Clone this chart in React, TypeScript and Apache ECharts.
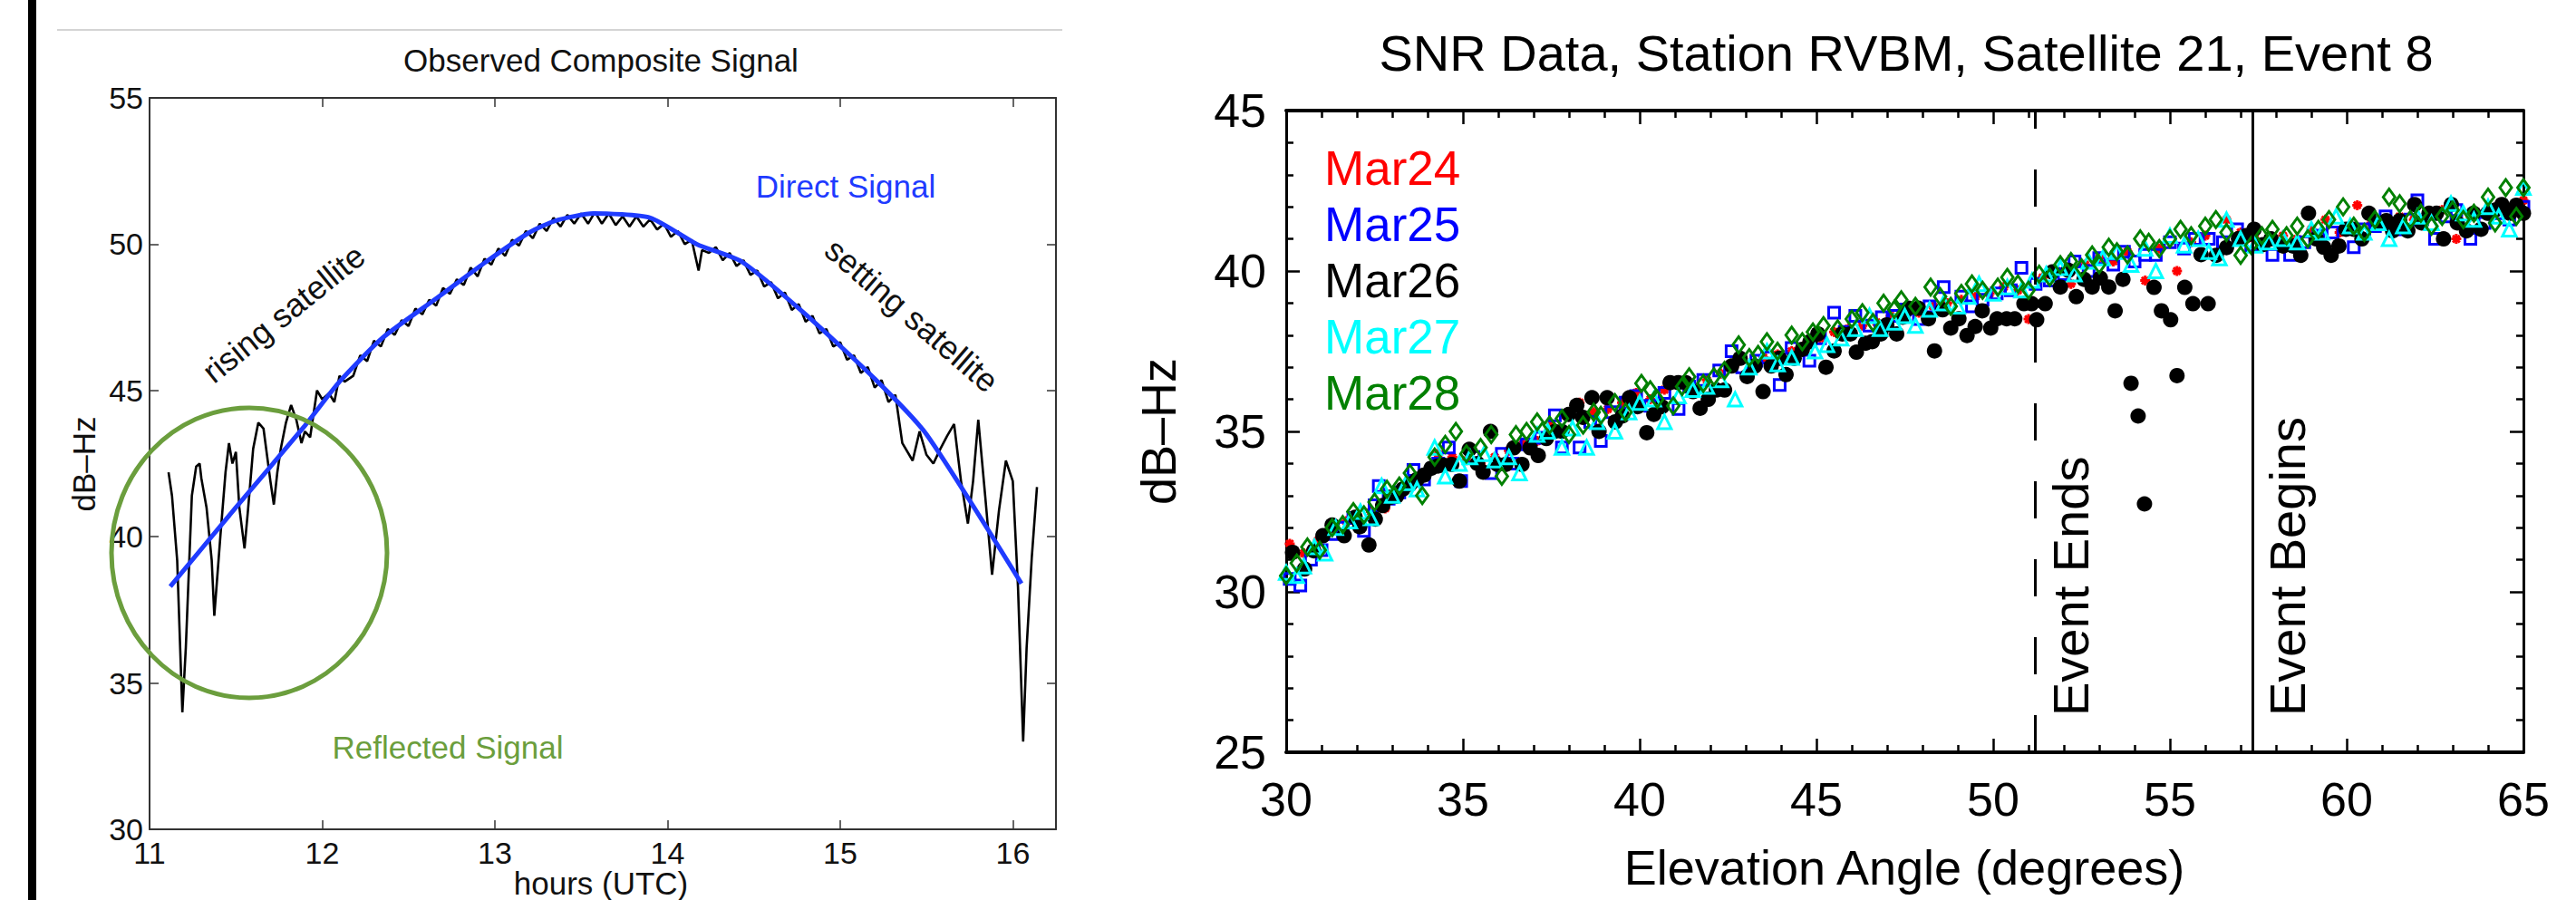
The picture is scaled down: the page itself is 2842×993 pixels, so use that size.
import React, { useEffect, useRef } from "react";
import * as echarts from "echarts";

const FONT = '"Liberation Sans", Arial, Helvetica, sans-serif';

// ---------- Left panel ----------
const leftTitle = "Observed Composite Signal";
const leftXName = "hours (UTC)";
const leftYName = "dB\u2013Hz";
const directSignal: [number, number][] = [
  [11.12, 38.3], [11.5, 41.0], [11.9, 43.8], [12.1, 45.3], [12.35, 46.8], [12.65, 48.1],
  [12.95, 49.4], [13.2, 50.4], [13.35, 50.8], [13.57, 51.05], [13.9, 50.9], [14.17, 50.0],
  [14.43, 49.4], [14.8, 47.6], [15.2, 45.4], [15.5, 43.5], [16.05, 38.4],
];
const compositeSignal: [number, number][] = [
  [11.11, 42.2], [11.13, 41.4], [11.16, 39.2], [11.19, 34.0], [11.21, 36.2], [11.245, 41.4],
  [11.27, 42.4], [11.29, 42.5], [11.3, 42.0], [11.33, 41.0], [11.36, 39.2], [11.375, 37.3],
  [11.41, 40.0], [11.44, 42.2], [11.46, 43.2], [11.48, 42.5], [11.5, 42.9], [11.52, 41.0],
  [11.55, 39.6], [11.57, 40.9], [11.6, 43.0], [11.63, 43.9], [11.66, 43.7], [11.68, 42.8],
  [11.7, 41.9], [11.72, 41.1], [11.74, 42.2], [11.76, 43.0], [11.79, 43.9], [11.82, 44.5],
  [11.85, 44.0], [11.88, 43.2], [11.9, 43.6], [11.93, 43.4], [11.97, 45.0], [12.0, 44.7],
  [12.04, 44.9], [12.07, 44.6], [12.1, 45.5], [12.13, 45.3], [12.18, 45.5], [12.22, 46.2],
  [12.26, 46.0], [12.3, 46.7], [12.34, 46.5], [12.38, 47.1], [12.42, 46.9], [12.46, 47.4],
  [12.5, 47.2], [12.54, 47.8], [12.58, 47.6], [12.62, 48.1], [12.66, 47.9], [12.7, 48.5],
  [12.74, 48.3], [12.78, 48.8], [12.82, 48.6], [12.86, 49.2], [12.9, 48.9], [12.94, 49.5],
  [12.98, 49.3], [13.02, 49.85], [13.06, 49.6], [13.1, 50.15], [13.14, 49.95], [13.18, 50.45],
  [13.22, 50.2], [13.26, 50.7], [13.3, 50.45], [13.34, 50.9], [13.38, 50.6], [13.42, 51.0],
  [13.46, 50.7], [13.5, 51.05], [13.54, 50.7], [13.58, 51.1], [13.62, 50.7], [13.66, 51.05],
  [13.7, 50.65], [13.74, 50.95], [13.78, 50.6], [13.82, 50.95], [13.86, 50.6], [13.9, 50.85],
  [13.94, 50.5], [13.98, 50.7], [14.02, 50.25], [14.06, 50.45], [14.1, 50.0], [14.14, 50.15],
  [14.18, 49.1], [14.2, 49.8], [14.24, 49.7], [14.28, 49.9], [14.32, 49.45], [14.36, 49.7],
  [14.4, 49.25], [14.44, 49.45], [14.48, 48.95], [14.52, 49.1], [14.56, 48.55], [14.6, 48.7],
  [14.64, 48.15], [14.68, 48.35], [14.72, 47.75], [14.76, 47.95], [14.8, 47.35], [14.84, 47.55],
  [14.88, 46.95], [14.92, 47.1], [14.96, 46.5], [15.0, 46.65], [15.04, 46.05], [15.08, 46.2],
  [15.12, 45.6], [15.16, 45.8], [15.2, 45.1], [15.24, 45.35], [15.28, 44.6], [15.32, 44.85],
  [15.36, 43.2], [15.42, 42.6], [15.46, 43.6], [15.5, 42.8], [15.54, 42.5], [15.58, 43.0],
  [15.62, 43.45], [15.66, 43.85], [15.7, 41.9], [15.74, 40.45], [15.77, 41.9], [15.8, 44.0],
  [15.84, 41.4], [15.88, 38.7], [15.92, 40.9], [15.96, 42.6], [16.0, 41.9], [16.03, 38.3],
  [16.06, 33.0], [16.08, 36.2], [16.11, 39.3], [16.14, 41.7],
];

// ---------- Right panel ----------
const rightTitle = "SNR Data, Station RVBM, Satellite 21, Event 8";
const rightXName = "Elevation Angle (degrees)";
const rightYName = "dB\u2013Hz";
const legendNames = ["Mar24", "Mar25", "Mar26", "Mar27", "Mar28"];
const legendColors = ["#ff0000", "#0000ff", "#000000", "#00ffff", "#008000"];
const eventEndsElev = 51.19;
const eventBeginsElev = 57.35;

const mar24: [number, number][] = [
  [30.1, 31.5], [30.5, 31.2], [30.9, 31.6], [31.3, 32.0], [31.7, 32.2], [32.0, 32.4], [32.4, 32.5],
  [32.8, 32.6], [33.1, 32.9], [33.5, 33.4], [33.9, 33.7], [34.3, 34.3], [34.7, 34.2], [35.1, 34.1],
  [35.5, 34.0], [35.9, 34.2], [36.3, 34.4], [36.7, 34.6], [37.1, 34.7], [37.5, 35.2], [37.9, 35.5],
  [38.3, 35.9], [38.7, 35.6], [39.1, 35.7], [39.5, 35.9], [39.9, 36.2], [40.3, 36.0], [40.7, 36.3],
  [41.1, 36.5], [41.5, 36.4], [41.9, 36.6], [42.3, 36.8], [42.7, 37.1], [43.1, 36.9], [43.5, 37.3],
  [43.9, 37.4], [44.3, 37.5], [44.7, 37.7], [45.1, 37.9], [45.5, 38.1], [45.9, 38.2], [46.3, 38.3],
  [46.7, 38.4], [47.1, 38.6], [47.5, 38.8], [47.9, 38.7], [48.3, 38.9], [48.7, 39.0], [49.1, 39.1],
  [49.5, 39.2], [49.9, 39.3], [50.3, 39.5], [50.7, 39.4], [51.0, 38.5], [51.4, 39.8], [51.8, 40.0],
  [52.2, 39.6], [52.6, 40.2], [53.0, 40.4], [53.4, 40.3], [53.8, 40.6], [54.3, 39.7], [54.7, 40.7],
  [55.2, 40.0], [55.6, 40.9], [56.0, 41.1], [56.6, 41.6], [57.0, 41.2], [57.4, 41.0], [57.8, 40.9],
  [58.2, 41.1], [58.6, 41.0], [59.0, 41.3], [59.4, 41.6], [59.8, 41.2], [60.3, 42.05], [60.7, 41.5],
  [61.1, 41.4], [61.5, 41.7], [61.9, 41.6], [62.3, 41.8], [62.7, 41.9], [63.1, 41.0], [63.5, 41.7],
  [63.9, 41.8], [64.3, 41.9], [64.7, 42.0], [65.0, 42.2],
];
const mar25: [number, number][] = [
  [30.1, 30.4], [30.4, 30.2], [30.7, 31.0], [31.0, 31.3], [31.3, 31.8], [31.6, 32.0], [31.9, 32.3],
  [32.2, 31.9], [32.5, 32.7], [32.62, 33.3], [32.9, 32.9], [33.2, 33.1], [33.6, 33.8], [33.9, 33.5],
  [34.3, 34.0], [34.6, 34.5], [34.95, 33.45], [35.3, 34.2], [35.8, 33.7], [36.1, 34.3], [36.4, 34.0],
  [36.8, 34.6], [37.2, 34.8], [37.6, 35.5], [37.8, 34.5], [38.3, 34.5], [38.6, 35.3], [38.9, 34.7],
  [39.2, 35.6], [39.6, 35.9], [39.9, 36.1], [40.3, 35.8], [40.7, 36.2], [41.1, 35.7], [41.4, 36.4],
  [41.8, 36.6], [42.25, 36.9], [42.6, 37.5], [42.9, 37.0], [43.3, 37.2], [43.6, 37.3], [43.96, 36.45],
  [44.3, 37.6], [44.8, 37.2], [45.1, 37.9], [45.5, 38.7], [45.8, 38.1], [46.1, 38.6], [46.5, 38.3],
  [46.85, 38.56], [47.2, 38.6], [47.5, 38.8], [47.9, 38.5], [48.2, 38.9], [48.6, 39.5], [49.1, 39.2],
  [49.4, 38.9], [49.7, 39.1], [50.1, 39.3], [50.5, 39.4], [50.8, 40.1], [51.2, 39.6], [51.6, 39.7],
  [52.0, 39.9], [52.3, 40.3], [52.7, 40.0], [53.0, 40.4], [53.4, 40.2], [53.7, 40.6], [54.0, 40.3],
  [54.3, 40.5], [54.6, 40.5], [55.0, 40.9], [55.4, 40.7], [55.7, 41.0], [56.1, 41.0], [56.5, 40.9],
  [56.9, 41.3], [57.3, 40.8], [57.9, 40.5], [58.4, 40.5], [58.8, 40.9], [59.2, 41.1], [59.6, 41.2],
  [60.2, 40.74], [60.5, 41.3], [60.8, 41.4], [61.1, 41.7], [61.5, 41.3], [61.8, 41.6], [62.0, 42.2],
  [62.5, 41.0], [62.8, 41.7], [63.1, 41.9], [63.5, 41.0], [63.9, 41.5], [64.3, 41.8], [64.6, 41.6],
  [65.0, 42.0],
];
const mar26: [number, number][] = [
  [30.18, 31.23], [30.52, 30.71], [30.78, 31.28], [31.04, 31.75], [31.3, 32.08], [31.64, 31.75],
  [31.95, 32.32], [32.08, 32.03], [32.34, 31.46], [32.52, 32.27], [32.73, 32.69], [32.95, 32.95],
  [33.12, 32.98], [33.3, 33.2], [33.51, 33.36], [33.7, 33.5], [33.9, 33.64], [34.1, 33.85],
  [34.29, 33.92], [34.45, 33.95], [34.68, 33.97], [34.9, 33.45], [35.18, 34.44], [35.41, 34.0],
  [35.57, 33.73], [35.78, 35.0], [35.98, 33.97], [36.21, 33.97], [36.44, 34.49], [36.67, 33.97],
  [36.9, 34.49], [37.13, 34.25], [37.36, 34.78], [37.6, 35.0], [37.8, 35.0], [37.99, 35.53],
  [38.22, 35.81], [38.39, 35.44], [38.65, 36.05], [38.85, 35.0], [39.08, 36.05], [39.31, 35.3],
  [39.51, 35.48], [39.71, 36.05], [39.94, 35.77], [40.2, 34.96], [40.4, 35.53], [40.63, 35.77],
  [40.86, 36.52], [41.09, 36.52], [41.3, 36.52], [41.51, 36.24], [41.71, 35.72], [41.94, 36.0],
  [42.17, 36.29], [42.4, 36.29], [42.6, 37.04], [42.84, 37.28], [43.04, 36.71], [43.26, 37.04],
  [43.49, 36.24], [43.72, 37.04], [43.95, 37.28], [44.14, 36.77], [44.37, 37.28], [44.6, 37.56],
  [44.82, 37.8], [45.04, 38.04], [45.27, 37.0], [45.5, 37.51], [45.73, 38.04], [45.96, 38.04],
  [46.13, 37.47], [46.39, 37.75], [46.58, 37.8], [46.82, 38.04], [46.99, 38.32], [47.27, 38.04],
  [47.44, 38.56], [47.6, 38.84], [47.88, 38.84], [48.17, 38.51], [48.34, 37.51], [48.57, 38.79],
  [48.8, 38.22], [49.03, 38.51], [49.26, 37.99], [49.49, 38.27], [49.69, 38.76], [49.93, 38.22],
  [50.11, 38.51], [50.38, 38.51], [50.61, 38.51], [50.87, 38.98], [51.09, 38.98], [51.23, 38.48],
  [51.47, 38.98], [51.67, 39.97], [51.9, 39.5], [52.13, 40.02], [52.35, 39.2], [52.57, 39.74],
  [52.8, 39.5], [53.03, 39.78], [53.27, 39.5], [53.45, 38.76], [53.67, 39.74], [53.9, 36.5],
  [54.1, 35.48], [54.28, 32.74], [54.55, 39.49], [54.76, 38.76], [55.02, 38.48], [55.2, 36.74],
  [55.42, 39.49], [55.65, 38.98], [55.88, 40.51], [56.08, 38.98], [56.31, 40.49], [56.6, 40.73],
  [56.94, 41.01], [57.15, 41.1], [57.38, 41.3], [57.63, 40.82], [57.86, 41.0], [58.2, 40.78],
  [58.48, 40.78], [58.7, 40.49], [58.92, 41.8], [59.14, 41.0], [59.35, 40.74], [59.56, 40.49],
  [59.78, 40.78], [59.98, 41.3], [60.2, 41.3], [60.43, 41.0], [60.63, 41.8], [60.9, 41.48],
  [61.12, 41.57], [61.3, 41.25], [61.5, 41.57], [61.73, 41.25], [61.92, 42.07], [62.12, 41.5],
  [62.33, 41.8], [62.54, 41.8], [62.74, 41.0], [62.96, 42.07], [63.13, 41.5], [63.39, 41.25],
  [63.59, 41.8], [63.8, 41.3], [63.99, 41.8], [64.2, 41.9], [64.39, 42.07], [64.62, 41.8],
  [64.8, 42.05], [65.0, 41.8],
];
const mar27: [number, number][] = [
  [30.0, 30.6], [30.3, 30.5], [30.5, 30.8], [30.8, 31.4], [31.1, 31.2], [31.4, 32.0], [31.8, 32.2],
  [32.1, 32.5], [32.4, 32.3], [32.7, 33.3], [33.0, 33.0], [33.4, 33.4], [33.7, 33.2], [34.2, 34.5],
  [34.5, 33.6], [34.9, 34.0], [35.2, 34.2], [35.6, 34.3], [35.9, 34.1], [36.3, 34.2], [36.6, 33.7],
  [37.1, 34.9], [37.4, 35.0], [37.8, 34.5], [38.1, 35.1], [38.5, 34.5], [38.8, 35.3], [39.3, 35.0],
  [39.7, 35.6], [40.0, 35.9], [40.4, 36.0], [40.7, 35.3], [41.1, 36.1], [41.5, 36.3], [41.9, 36.4],
  [42.3, 36.6], [42.7, 36.0], [43.1, 37.0], [43.6, 37.5], [43.9, 37.1], [44.3, 37.3], [44.96, 37.5],
  [45.3, 37.7], [45.7, 37.9], [46.1, 38.2], [46.5, 38.6], [46.8, 38.2], [47.2, 38.4], [47.5, 38.6],
  [47.8, 38.3], [48.2, 38.8], [48.6, 39.0], [49.0, 38.9], [49.3, 39.2], [49.6, 39.6], [50.0, 39.3],
  [50.4, 39.5], [50.8, 39.4], [51.1, 39.7], [51.5, 39.9], [51.9, 40.1], [52.3, 39.9], [52.7, 40.3],
  [53.1, 40.4], [53.5, 40.6], [53.9, 40.2], [54.3, 40.7], [54.6, 40.0], [55.0, 41.1], [55.4, 40.8],
  [55.8, 41.0], [56.1, 40.6], [56.4, 40.4], [56.6, 41.6], [57.0, 41.0], [57.4, 40.8], [57.8, 40.9],
  [58.2, 41.0], [58.6, 40.9], [59.0, 41.3], [59.3, 41.2], [59.7, 41.7], [60.1, 41.4], [60.5, 41.2],
  [60.9, 41.5], [61.2, 41.0], [61.6, 41.4], [62.0, 41.7], [62.4, 41.5], [62.95, 42.1], [63.3, 41.8],
  [63.6, 41.6], [64.0, 42.0], [64.3, 41.7], [64.6, 41.3], [65.0, 42.6],
];
const mar28: [number, number][] = [
  [30.0, 30.5], [30.3, 30.9], [30.6, 31.4], [30.95, 31.3], [31.3, 32.0], [31.6, 32.1], [31.9, 32.5],
  [32.2, 32.4], [32.5, 32.8], [32.85, 33.2], [33.2, 33.3], [33.5, 33.7], [33.85, 33.0], [34.2, 34.2],
  [34.5, 34.6], [34.8, 35.0], [35.1, 34.3], [35.5, 34.5], [35.8, 34.9], [36.1, 33.6], [36.5, 34.9],
  [36.8, 35.0], [37.1, 35.3], [37.45, 35.2], [37.8, 35.4], [38.0, 34.9], [38.4, 35.2], [38.7, 35.6],
  [38.9, 35.5], [39.3, 35.9], [39.6, 35.6], [40.05, 36.5], [40.3, 36.3], [40.5, 36.0], [40.95, 35.8],
  [41.2, 36.4], [41.4, 36.7], [41.8, 36.5], [42.1, 36.7], [42.4, 36.9], [42.8, 37.7], [43.1, 37.3],
  [43.35, 37.4], [43.6, 37.8], [43.9, 37.5], [44.3, 38.0], [44.6, 37.8], [44.9, 38.1], [45.2, 38.3],
  [45.6, 38.2], [46.0, 38.5], [46.3, 38.7], [46.6, 38.4], [46.9, 39.0], [47.2, 38.8], [47.4, 39.1],
  [47.8, 38.9], [48.23, 39.5], [48.5, 39.2], [48.8, 38.9], [49.1, 39.3], [49.4, 39.6], [49.7, 39.4],
  [50.13, 39.5], [50.4, 39.8], [50.7, 39.6], [51.0, 39.4], [51.3, 39.9], [51.6, 39.8], [51.9, 40.2],
  [52.2, 40.3], [52.5, 40.1], [52.8, 40.5], [53.0, 40.2], [53.27, 40.74], [53.5, 40.6], [53.8, 40.5],
  [54.16, 41.0], [54.4, 40.9], [54.7, 40.7], [55.0, 41.0], [55.3, 41.3], [55.6, 41.1], [56.0, 41.4],
  [56.3, 41.6], [56.6, 41.2], [57.0, 40.49], [57.3, 40.8], [57.6, 41.1], [57.9, 41.3], [58.3, 41.1],
  [58.6, 41.4], [58.9, 41.0], [59.2, 41.3], [59.5, 41.6], [59.9, 42.0], [60.2, 41.4], [60.5, 41.2],
  [60.8, 41.6], [61.2, 42.3], [61.5, 42.1], [61.8, 41.6], [62.1, 41.8], [62.4, 41.4], [62.7, 41.7],
  [63.0, 41.9], [63.3, 41.6], [63.6, 41.8], [64.0, 42.3], [64.2, 41.5], [64.5, 42.6], [64.8, 41.7],
  [65.0, 42.6],
];

const asteriskPath = "path://M5,0L5,10M0,5L10,5M1.5,1.5L8.5,8.5M8.5,1.5L1.5,8.5";

function txt(text: string, x: number, y: number, size: number, color: string, rotation = 0, align = "center") {
  return {
    type: "text",
    x,
    y,
    rotation,
    silent: true,
    z: 20,
    style: { text, fill: color, fontSize: size, fontFamily: FONT, align, verticalAlign: "middle" },
  };
}

export default function App() {
  const ref = useRef<HTMLDivElement>(null);
  useEffect(() => {
    const chart = echarts.init(ref.current!, null, { renderer: "svg" });

    const leftFrame = { color: "#333", width: 2 };
    const leftTick = { show: true, inside: true, length: 10, lineStyle: { color: "#333", width: 1.5 } };
    const leftLabel = { fontSize: 34, color: "#111", fontFamily: FONT };

    const rTick = { show: true, inside: true, length: 15, lineStyle: { color: "#000", width: 2.5 } };
    const rMinor = { show: true, splitNumber: 5, length: 8, lineStyle: { color: "#000", width: 2.5 } };
    const rLabel = { fontSize: 52, color: "#000", fontFamily: FONT };

    const scatterSeries = (name: string, data: [number, number][], symbol: string, size: any, color: string, filled: boolean, bw: number) => ({
      name,
      type: "scatter",
      xAxisIndex: 2,
      yAxisIndex: 2,
      data,
      symbol,
      symbolSize: size,
      itemStyle: {
        color: filled ? color : "rgba(255,255,255,0)",
        borderColor: color,
        borderWidth: bw,
        opacity: 1,
      },
      emphasis: { disabled: true },
    });

    const option: any = {
      animation: false,
      backgroundColor: "#ffffff",
      grid: [
        { left: 165, top: 108, width: 1000, height: 807 },
        { left: 1419, top: 122, width: 1365, height: 708 },
      ],
      xAxis: [
        {
          gridIndex: 0, type: "value", min: 11, max: 16.25, interval: 1, position: "bottom",
          axisLine: { show: true, lineStyle: leftFrame }, axisTick: leftTick, splitLine: { show: false },
          axisLabel: { ...leftLabel, margin: 9, formatter: (v: number) => (Number.isInteger(v) ? String(v) : "") },
        },
        {
          gridIndex: 0, type: "value", min: 11, max: 16.25, interval: 1, position: "top",
          axisLine: { show: true, lineStyle: leftFrame }, axisTick: leftTick, splitLine: { show: false },
          axisLabel: { show: false },
        },
        {
          gridIndex: 1, type: "value", min: 30, max: 65, interval: 5, position: "bottom",
          axisLine: { show: true, lineStyle: { color: "#000", width: 4 } }, axisTick: rTick, minorTick: rMinor,
          splitLine: { show: false }, minorSplitLine: { show: false },
          axisLabel: { ...rLabel, margin: 26 },
        },
        {
          gridIndex: 1, type: "value", min: 30, max: 65, interval: 5, position: "top",
          axisLine: { show: true, lineStyle: { color: "#000", width: 4 } }, axisTick: rTick, minorTick: rMinor,
          splitLine: { show: false }, minorSplitLine: { show: false }, axisLabel: { show: false },
        },
      ],
      yAxis: [
        {
          gridIndex: 0, type: "value", min: 30, max: 55, interval: 5, position: "left",
          axisLine: { show: true, lineStyle: leftFrame }, axisTick: leftTick, splitLine: { show: false },
          axisLabel: { ...leftLabel, margin: 7 },
        },
        {
          gridIndex: 0, type: "value", min: 30, max: 55, interval: 5, position: "right",
          axisLine: { show: true, lineStyle: leftFrame }, axisTick: leftTick, splitLine: { show: false },
          axisLabel: { show: false },
        },
        {
          gridIndex: 1, type: "value", min: 25, max: 45, interval: 5, position: "left",
          axisLine: { show: true, lineStyle: { color: "#000", width: 3 } }, axisTick: rTick, minorTick: rMinor,
          splitLine: { show: false }, minorSplitLine: { show: false },
          axisLabel: { ...rLabel, margin: 22 },
        },
        {
          gridIndex: 1, type: "value", min: 25, max: 45, interval: 5, position: "right",
          axisLine: { show: true, lineStyle: { color: "#000", width: 3 } }, axisTick: rTick, minorTick: rMinor,
          splitLine: { show: false }, minorSplitLine: { show: false }, axisLabel: { show: false },
        },
      ],
      series: [
        {
          name: "composite", type: "line", xAxisIndex: 0, yAxisIndex: 0, data: compositeSignal,
          symbol: "none", showSymbol: false, lineStyle: { color: "#000", width: 2.6 }, z: 2,
          emphasis: { disabled: true },
        },
        {
          name: "direct", type: "line", xAxisIndex: 0, yAxisIndex: 0, data: directSignal,
          symbol: "none", showSymbol: false, smooth: 0.2, lineStyle: { color: "#1f3bff", width: 5 }, z: 3,
          emphasis: { disabled: true },
        },
        scatterSeries(legendNames[0], mar24, asteriskPath, 11, legendColors[0], true, 3),
        scatterSeries(legendNames[1], mar25, "rect", 12, legendColors[1], false, 3),
        {
          ...scatterSeries(legendNames[2], mar26, "circle", 17, legendColors[2], true, 0),
          markLine: {
            silent: true,
            symbol: ["none", "none"],
            label: { show: false },
            emphasis: { disabled: true },
            data: [
              { xAxis: eventEndsElev, lineStyle: { color: "#000", width: 3, type: [41, 45] } },
              { xAxis: eventBeginsElev, lineStyle: { color: "#000", width: 3, type: "solid" } },
            ],
          },
        },
        scatterSeries(legendNames[3], mar27, "triangle", 15, legendColors[3], false, 3),
        scatterSeries(legendNames[4], mar28, "diamond", [13, 18], legendColors[4], false, 3),
      ],
      graphic: [
        { type: "rect", silent: true, z: 20, shape: { x: 31, y: 0, width: 9, height: 993 }, style: { fill: "#000" } },
        { type: "line", silent: true, z: 20, shape: { x1: 63, y1: 33, x2: 1172, y2: 33 }, style: { stroke: "#d4d4d4", lineWidth: 2 } },
        { type: "ellipse", silent: true, z: 20, shape: { cx: 275, cy: 610, rx: 152, ry: 160 }, style: { fill: "none", stroke: "#6b9e3d", lineWidth: 5 } },
        txt(leftTitle, 663, 66, 35, "#111"),
        txt("Direct Signal", 933, 205, 35, "#1f3bff"),
        txt("rising satellite", 313, 346, 36, "#111", 0.68),
        txt("setting satellite", 1006, 348, 36, "#111", -0.71),
        txt("Reflected Signal", 494, 824, 35, "#6b9e3d"),
        txt(leftXName, 663, 974, 35, "#111"),
        txt(leftYName, 92, 512, 35, "#111", Math.PI / 2),
        txt(rightTitle, 2103, 58, 56, "#000"),
        txt(rightXName, 2101, 957, 54, "#000"),
        txt(rightYName, 1278, 476, 54, "#000", Math.PI / 2),
        txt("Event Ends", 2284, 790, 56, "#000", Math.PI / 2, "left"),
        txt("Event Begins", 2523, 790, 56, "#000", Math.PI / 2, "left"),
        ...legendNames.map((n, i) => txt(n, 1461, 185 + i * 62, 53, legendColors[i], 0, "left")),
      ],
    };

    chart.setOption(option);
    return () => chart.dispose();
  }, []);

  return (
    <div
      ref={ref}
      style={{ position: "absolute", left: 0, top: 0, width: 2842, height: 993, background: "#fff" }}
    />
  );
}
